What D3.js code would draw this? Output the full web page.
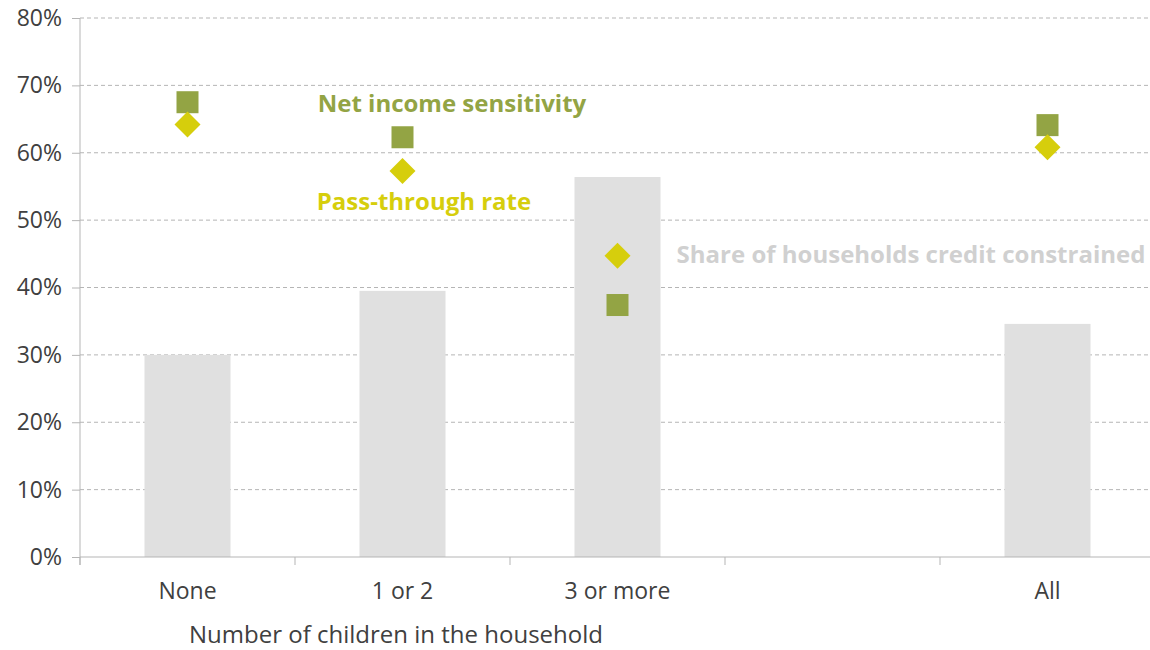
<!DOCTYPE html>
<html><head><meta charset="utf-8">
<script src="https://cdn.jsdelivr.net/npm/d3@7"></script>
<style>body{margin:0;background:#fff;}svg{display:block;}svg text{font-family:"Open Sans","Noto Sans",sans-serif;}</style>
</head><body>
<svg id="c" width="1150" height="650"></svg>
<script>
const categories = ["None", "1 or 2", "3 or more", "", "All"];
const creditConstrained = [30.0, 39.5, 56.4, null, 34.6];
const netIncomeSensitivity = [67.5, 62.3, 37.4, null, 64.1];
const passThroughRate = [64.2, 57.3, 44.7, null, 60.8];
const yTicks = [0, 10, 20, 30, 40, 50, 60, 70, 80];

const FONT = '"Open Sans","Noto Sans",sans-serif';
const svg = d3.select("#c");
const m = {l: 80, r: 1155, t: 18, b: 557};
const x = d3.scaleBand().domain(d3.range(categories.length)).range([m.l, m.r]).paddingInner(0).paddingOuter(0);
const y = d3.scaleLinear().domain([0, 80]).range([m.b, m.t]);

// gridlines
svg.append("g").selectAll("line").data(yTicks.filter(d => d > 0)).join("line")
  .attr("x1", m.l).attr("x2", 1150).attr("y1", d => y(d)).attr("y2", d => y(d))
  .attr("stroke", "#b5b5b5").attr("stroke-width", 1).attr("stroke-dasharray", "4,3");

// bars
const bw = 86;
svg.append("g").selectAll("rect").data(creditConstrained.map((v, i) => ({v, i})).filter(d => d.v != null)).join("rect")
  .attr("x", d => x(d.i) + x.bandwidth() / 2 - bw / 2).attr("width", bw)
  .attr("y", d => y(d.v)).attr("height", d => y(0) - y(d.v)).attr("fill", "#e0e0e0");

// y axis
const ya = d3.axisLeft(y).tickValues(yTicks).tickFormat(d => d + "%").tickSize(8).tickPadding(10);
const yg = svg.append("g").attr("transform", `translate(${m.l},0)`).call(ya).attr("font-family", FONT);
yg.select(".domain").attr("stroke", "#b5b5b5").attr("d", `M0,${m.t}V${m.b + 8}`);
yg.selectAll(".tick line").attr("stroke", "#b5b5b5");
yg.selectAll("text").attr("fill", "#404040").style("font-size", "23px");

// x axis
const xa = d3.axisBottom(x).tickFormat(i => categories[i]).tickSize(0).tickPadding(26);
const xg = svg.append("g").attr("transform", `translate(0,${m.b})`).call(xa).attr("font-family", FONT);
xg.select(".domain").attr("stroke", "#b5b5b5").attr("d", `M${m.l},0H1150`);
xg.selectAll("text").attr("fill", "#404040").style("font-size", "23px");
// category boundary ticks
xg.append("g").selectAll("line").data(d3.range(categories.length + 1)).join("line")
  .attr("x1", i => m.l + i * x.step()).attr("x2", i => m.l + i * x.step())
  .attr("y1", 0).attr("y2", 8).attr("stroke", "#b5b5b5");

// markers
const sq = 22, dm = 13;
svg.append("g").selectAll("rect").data(netIncomeSensitivity.map((v, i) => ({v, i})).filter(d => d.v != null)).join("rect")
  .attr("x", d => x(d.i) + x.bandwidth() / 2 - sq / 2).attr("y", d => y(d.v) - sq / 2)
  .attr("width", sq).attr("height", sq).attr("fill", "#93a444");
svg.append("g").selectAll("path").data(passThroughRate.map((v, i) => ({v, i})).filter(d => d.v != null)).join("path")
  .attr("transform", d => `translate(${x(d.i) + x.bandwidth() / 2},${y(d.v)})`)
  .attr("d", `M0,${-dm}L${dm},0L0,${dm}L${-dm},0Z`).attr("fill", "#d6ce0c");

// labels
svg.append("text").attr("x", 452).attr("y", 112).attr("text-anchor", "middle")
  .attr("fill", "#93a444").style("font-size", "24px").style("font-weight", "bold").text("Net income sensitivity");
svg.append("text").attr("x", 424).attr("y", 210).attr("text-anchor", "middle")
  .attr("fill", "#d6ce0c").style("font-size", "24px").style("font-weight", "bold").text("Pass-through rate");
svg.append("text").attr("x", 911).attr("y", 263).attr("text-anchor", "middle")
  .attr("fill", "#d0d0d0").style("font-size", "24px").style("font-weight", "bold").text("Share of households credit constrained");

svg.append("text").attr("x", 396).attr("y", 643).attr("text-anchor", "middle")
  .attr("fill", "#404040").style("font-size", "24px").text("Number of children in the household");
</script>
</body></html>
